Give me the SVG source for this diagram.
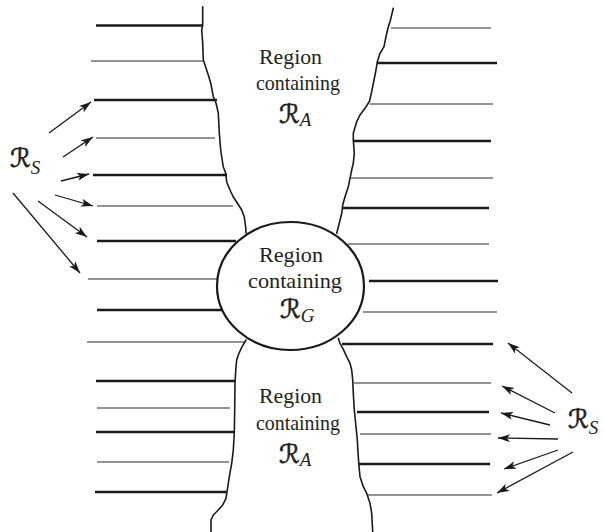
<svg xmlns="http://www.w3.org/2000/svg" width="604" height="532" viewBox="0 0 604 532">
<defs>
<marker id="ah" markerUnits="userSpaceOnUse" markerWidth="12" markerHeight="8" viewBox="0 0 12 8" refX="12" refY="4" orient="auto">
<path d="M0,0 L12,4 L0,8 L3,4 z" fill="#1a1a1a"/>
</marker>
<style>
.thick{stroke:#1a1a1a;stroke-width:2.3;fill:none}
.thin{stroke:#2a2a2a;stroke-width:1.1;fill:none}
.bnd{stroke:#1a1a1a;stroke-width:1.6;fill:none;stroke-linejoin:round;stroke-linecap:round}
.arr{stroke:#1a1a1a;stroke-width:1.3;fill:none;marker-end:url(#ah)}
.t{font-family:"Liberation Serif","Times New Roman",serif;font-size:21px;fill:#231f20}
.r{font-family:"DejaVu Serif","DejaVu Sans",serif;font-size:26px;fill:#231f20;stroke:#231f20;stroke-width:0.6}
.sub{font-family:"Liberation Serif","Times New Roman",serif;font-size:19px;font-style:italic;fill:#231f20}
</style>
</defs>

<g id="left-strata">
<line class="thick" x1="96" y1="25.5" x2="203" y2="25.5"/>
<line class="thin" x1="91" y1="61" x2="203" y2="61"/>
<line class="thick" x1="94" y1="100" x2="217" y2="100"/>
<line class="thin" x1="96" y1="138" x2="215" y2="138"/>
<line class="thick" x1="93" y1="175" x2="227" y2="175"/>
<line class="thin" x1="97" y1="206" x2="233" y2="206"/>
<line class="thick" x1="97" y1="241" x2="236" y2="241"/>
<line class="thin" x1="88" y1="279" x2="218" y2="279"/>
<line class="thick" x1="97" y1="310" x2="223" y2="310"/>
<line class="thin" x1="87" y1="342" x2="244" y2="342"/>
<line class="thick" x1="96" y1="381" x2="235" y2="381"/>
<line class="thin" x1="97" y1="408" x2="230" y2="408"/>
<line class="thick" x1="96" y1="432" x2="234" y2="432"/>
<line class="thin" x1="97" y1="462" x2="229" y2="462"/>
<line class="thick" x1="95" y1="492" x2="227" y2="492"/>
</g>

<g id="right-strata">
<line class="thin" x1="391" y1="28" x2="491" y2="28"/>
<line class="thick" x1="377" y1="63" x2="497" y2="63"/>
<line class="thin" x1="370" y1="104" x2="493" y2="104"/>
<line class="thick" x1="354" y1="141" x2="491" y2="141"/>
<line class="thin" x1="350" y1="178" x2="493" y2="178"/>
<line class="thick" x1="342" y1="208" x2="489" y2="208"/>
<line class="thin" x1="348" y1="244" x2="489" y2="244"/>
<line class="thick" x1="369" y1="281" x2="498" y2="281"/>
<line class="thin" x1="363" y1="312" x2="497" y2="312"/>
<line class="thick" x1="342" y1="344" x2="493" y2="344"/>
<line class="thin" x1="354" y1="383" x2="491" y2="383"/>
<line class="thick" x1="357" y1="412" x2="489" y2="412"/>
<line class="thin" x1="360" y1="434" x2="491" y2="434"/>
<line class="thick" x1="358" y1="464" x2="490" y2="464"/>
<line class="thin" x1="368" y1="495" x2="492" y2="495"/>
</g>

<g id="boundary-top-left">
<polyline class="bnd" points="202.7,6.7 202.7,25 201.7,30 202.7,43 203.3,60 208.3,75 210.7,83 213.3,96.7 216,103 218.3,113 219.3,133 220.7,150 223.3,167 225.7,173 226.7,182 230,190 233.3,197 237.3,203 241.7,210 244.3,217 245.7,227 246,233"/>
</g>
<g id="boundary-top-right">
<polyline class="bnd" points="393.3,8.3 390,21.7 388.3,26.7 386,36.7 384,46.7 380,53.3 377.3,61.7 376,70 374,80 371.7,91.7 369.3,101.7 365,108.3 360,115 356.7,121.7 353.3,133.3 353.3,140 354.3,153.3 353.3,163.3 351.7,170 350,178.3 348.3,186.7 345,196.7 342.7,205 341.7,213.3 339.3,223.3 336.7,233.3"/>
</g>
<g id="boundary-bottom-left">
<polyline class="bnd" points="246,340 241.7,347.3 238.3,355 236.7,360 236,366.7 235,381.7 234.7,410 234.3,433.3 233.3,450 231.7,463.3 229.3,476.7 227.3,490 226,498.3 222.7,505 218.3,510 213.3,515 211,520 211,532"/>
</g>
<g id="boundary-bottom-right">
<polyline class="bnd" points="338.3,338.3 340,343.3 343.3,349.3 346.7,356.7 350,363.3 351.7,370 352.7,380 353.3,393.3 354.3,410 356,426.7 357.3,440 358.3,456.7 359,466.7 360,476.7 363.3,486.7 366.7,493.3 370,503.3 371.7,513.3 372.7,532"/>
</g>

<g id="region-G">
<ellipse cx="290.5" cy="286" rx="73.5" ry="64" fill="#fff" stroke="#1a1a1a" stroke-width="2.2"/>
<text class="t" x="259" y="262" textLength="64" lengthAdjust="spacingAndGlyphs">Region</text>
<text class="t" x="248" y="288" textLength="94" lengthAdjust="spacingAndGlyphs">containing</text>
<text x="280" y="318"><tspan class="r">ℛ</tspan><tspan class="sub" dy="4">G</tspan></text>
</g>

<g id="region-A-top">
<text class="t" x="259" y="64" textLength="63" lengthAdjust="spacingAndGlyphs">Region</text>
<text class="t" x="256" y="90" textLength="84" lengthAdjust="spacingAndGlyphs">containing</text>
<text x="279" y="123"><tspan class="r">ℛ</tspan><tspan class="sub" dy="3">A</tspan></text>
</g>

<g id="region-A-bottom">
<text class="t" x="259" y="403" textLength="63" lengthAdjust="spacingAndGlyphs">Region</text>
<text class="t" x="256" y="430" textLength="84" lengthAdjust="spacingAndGlyphs">containing</text>
<text x="279" y="463"><tspan class="r">ℛ</tspan><tspan class="sub" dy="3">A</tspan></text>
</g>

<g id="label-S-left">
<text x="10" y="167"><tspan class="r">ℛ</tspan><tspan class="sub" dy="7">S</tspan></text>
</g>
<g id="label-S-right">
<text x="568" y="428"><tspan class="r">ℛ</tspan><tspan class="sub" dy="6">S</tspan></text>
</g>

<g id="connectors">
<line class="arr" x1="49" y1="133" x2="91" y2="102"/>
<line class="arr" x1="63" y1="157" x2="93" y2="137"/>
<line class="arr" x1="61" y1="181" x2="89" y2="174"/>
<line class="arr" x1="55" y1="195" x2="93" y2="206"/>
<line class="arr" x1="38" y1="201" x2="87" y2="237"/>
<line class="arr" x1="13" y1="193" x2="80" y2="273"/>
<line class="arr" x1="572" y1="393" x2="508" y2="343"/>
<line class="arr" x1="555" y1="413" x2="502" y2="386"/>
<line class="arr" x1="550" y1="425" x2="501" y2="413"/>
<line class="arr" x1="558" y1="439" x2="498" y2="438"/>
<line class="arr" x1="558" y1="450" x2="504" y2="469"/>
<line class="arr" x1="573" y1="452" x2="497" y2="493"/>
</g>
</svg>
